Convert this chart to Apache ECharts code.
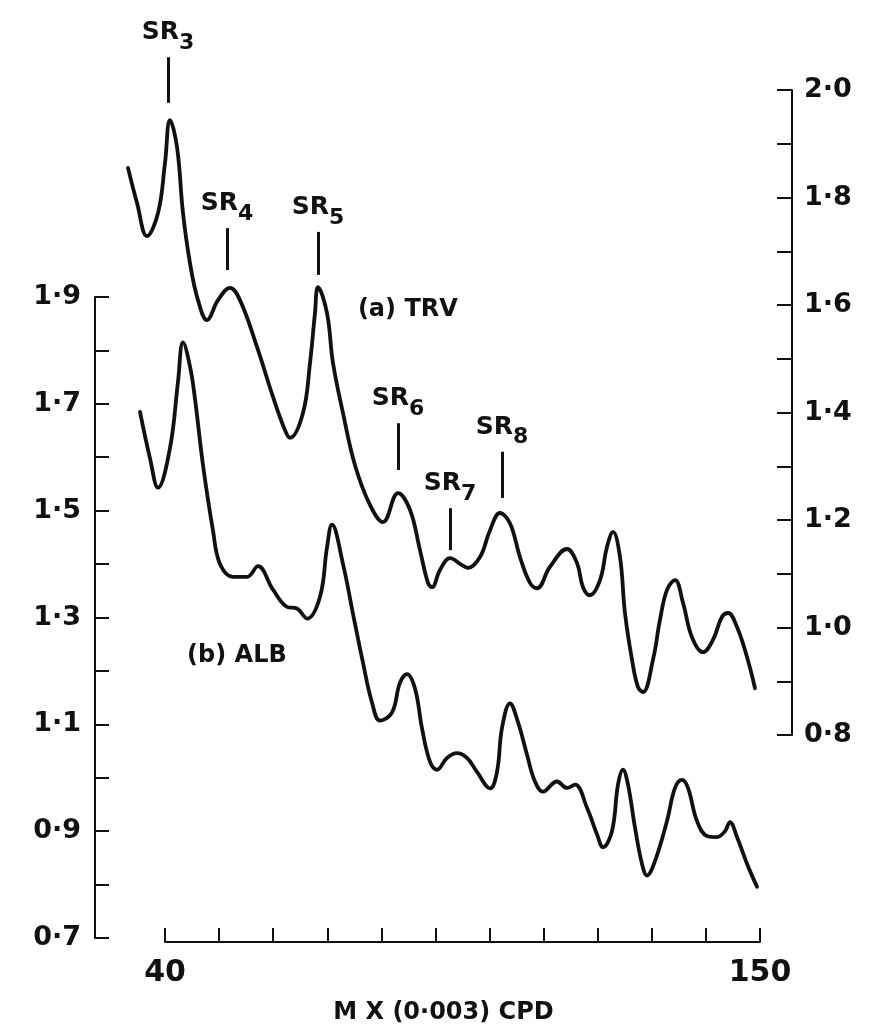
<!DOCTYPE html>
<html>
<head>
<meta charset="utf-8">
<script src="https://cdn.jsdelivr.net/npm/echarts@6/dist/echarts.min.js"></script>
<style>
html,body{margin:0;padding:0;background:#ffffff;}
#chart{width:885px;height:1030px;}
</style>
</head>
<body>
<div id="chart"></div>
<script>
// ---- data ----
// (a) TRV  -> right-hand scale
const trvX = [33.16, 34.82, 36.67, 38.71, 40.00, 40.92, 42.22, 43.33, 44.62, 46.10,
              47.76, 49.80, 52.02, 53.87, 57.01, 59.97, 62.19, 63.11, 65.51, 66.81,
              67.73, 68.29, 69.95, 71.06, 72.91, 75.13, 77.90, 80.30, 83.08, 85.29,
              87.14, 88.62, 89.36, 90.84, 92.69, 94.91, 96.02, 98.24, 100.09, 101.93,
              103.78, 105.63, 107.48, 108.77, 111.18, 114.32, 116.17, 117.28, 118.57, 120.42,
              121.72, 122.83, 124.12, 125.04, 126.34, 127.45, 128.37, 130.22, 131.51, 132.81,
              134.29, 135.77, 137.43, 139.46, 141.31, 142.98, 144.09, 145.75, 147.60, 149.08];
const trvY = [1.855, 1.790, 1.728, 1.771, 1.864, 1.944, 1.894, 1.771, 1.678, 1.609,
              1.572, 1.609, 1.632, 1.609, 1.522, 1.429, 1.367, 1.353, 1.399, 1.492,
              1.585, 1.633, 1.585, 1.492, 1.399, 1.302, 1.228, 1.196, 1.250, 1.219,
              1.144, 1.083, 1.075, 1.107, 1.129, 1.116, 1.111, 1.131, 1.181, 1.213,
              1.194, 1.131, 1.083, 1.073, 1.113, 1.146, 1.120, 1.075, 1.060, 1.088,
              1.150, 1.178, 1.131, 1.027, 0.940, 0.889, 0.880, 0.940, 1.014, 1.070,
              1.088, 1.046, 0.982, 0.954, 0.977, 1.020, 1.027, 1.001, 0.945, 0.887];

// (b) ALB  -> left-hand scale
const albX = [35.38, 37.23, 38.71, 40.92, 42.40, 43.33, 44.62, 45.55, 47.03, 48.87,
              50.17, 52.57, 55.16, 57.19, 59.97, 62.55, 64.40, 66.25, 68.66, 69.95,
              70.87, 72.91, 74.76, 76.61, 78.27, 79.75, 81.97, 83.45, 84.74, 86.22,
              87.51, 88.99, 90.29, 92.13, 93.98, 95.83, 97.68, 100.09, 101.38, 102.30,
              103.78, 105.26, 106.93, 108.40, 109.88, 112.47, 114.32, 115.80, 118.02, 119.87,
              120.98, 122.64, 123.75, 124.67, 125.60, 126.89, 128.18, 129.11, 130.59, 132.81,
              134.29, 135.58, 136.69, 138.35, 140.20, 142.05, 143.53, 144.45, 145.75, 147.60,
              149.45];
const albY = [1.685, 1.598, 1.543, 1.617, 1.741, 1.815, 1.770, 1.709, 1.585, 1.463,
              1.400, 1.376, 1.376, 1.396, 1.352, 1.320, 1.317, 1.298, 1.339, 1.431,
              1.474, 1.400, 1.307, 1.215, 1.141, 1.107, 1.122, 1.178, 1.194, 1.167,
              1.093, 1.030, 1.015, 1.037, 1.046, 1.037, 1.011, 0.980, 1.011, 1.093,
              1.139, 1.104, 1.043, 0.993, 0.974, 0.993, 0.981, 0.987, 0.944, 0.894,
              0.870, 0.900, 0.987, 1.015, 0.987, 0.907, 0.839, 0.817, 0.844, 0.919,
              0.981, 0.996, 0.981, 0.919, 0.891, 0.889, 0.900, 0.917, 0.889, 0.839,
              0.796];

// peak annotations (TRV scale)
const peakSub  = ['3', '4', '5', '6', '7', '8'];
const peakX    = [40.55, 51.46, 68.29, 83.08, 92.69, 102.30];
const arrowTop = [2.061, 1.743, 1.736, 1.380, 1.222, 1.327];
const arrowBot = [1.976, 1.665, 1.656, 1.293, 1.144, 1.241];

// axis ranges
const xTicksMin = 40, xTicksMax = 150, xStep = 10;
const leftMin = 0.7, leftMax = 1.9;
const rightMin = 0.8, rightMax = 2.0;
const yStep = 0.1;
const fullXMin = 27.06, fullXMax = 155.92;   // x value at the left and right scale lines
const trvPlotMax = 2.1674;                   // TRV value at the top edge of the page

const seriesName = { trv: '(a) TRV', alb: '(b) ALB' };
const trvNamePos = [84.9, 1.591];
const albNamePos = [53.3, 1.228];
const xAxisTitle = 'M X (0·003) CPD';

// ---- chart ----
const INK = '#111111';
const FONT = 'DejaVu Sans';
const fmtDot = v => v.toFixed(1).replace('.', '·');

const chart = echarts.init(document.getElementById('chart'), null, { renderer: 'canvas' });

const arrows = peakSub.map((s, i) => [
  { coord: [peakX[i], arrowTop[i]], name: s },
  { coord: [peakX[i], arrowBot[i]] }
]);

const nameLabel = {
  show: true, position: 'inside', color: INK, fontFamily: FONT, fontWeight: 'bold', fontSize: 24,
  formatter: p => p.name
};

const option = {
  backgroundColor: '#ffffff',
  animation: false,
  grid: [
    { left: 95, right: 93, top: 297, bottom: 88 },    // 0: ALB + left scale
    { left: 95, right: 93, top: 90, bottom: 295 },    // 1: right scale
    { left: 165, right: 125, top: 297, bottom: 88 },  // 2: visible x axis
    { left: 95, right: 93, top: 0, bottom: 295 }      // 3: TRV curve + labels
  ],
  xAxis: [
    { gridIndex: 0, type: 'value', min: fullXMin, max: fullXMax,
      axisLine: { show: false }, axisTick: { show: false }, axisLabel: { show: false },
      splitLine: { show: false },
      name: xAxisTitle, nameLocation: 'middle', nameGap: 63,
      nameTextStyle: { color: INK, fontFamily: FONT, fontSize: 24, fontWeight: 'bold' } },
    { gridIndex: 1, type: 'value', min: fullXMin, max: fullXMax, show: false },
    { gridIndex: 2, type: 'value', min: xTicksMin, max: xTicksMax, interval: xStep,
      axisLine: { lineStyle: { color: INK, width: 2 } },
      axisTick: { inside: true, length: 14, lineStyle: { color: INK, width: 2 } },
      splitLine: { show: false },
      axisLabel: { color: INK, fontFamily: FONT, fontWeight: 'bold', fontSize: 30, margin: 16,
        formatter: v => (Math.abs(v - xTicksMin) < 1e-6 || Math.abs(v - xTicksMax) < 1e-6) ? String(v) : '' } },
    { gridIndex: 3, type: 'value', min: fullXMin, max: fullXMax, show: false }
  ],
  yAxis: [
    { gridIndex: 0, type: 'value', position: 'left', min: leftMin, max: leftMax, interval: yStep,
      axisLine: { show: true, lineStyle: { color: INK, width: 2 } },
      axisTick: { show: true, inside: true, length: 14, lineStyle: { color: INK, width: 2 } },
      splitLine: { show: false },
      axisLabel: { color: INK, fontFamily: FONT, fontWeight: 'bold', fontSize: 27, margin: 14,
        formatter: v => (Math.round(v * 10) % 2 === 1) ? fmtDot(v) : '' } },
    { gridIndex: 1, type: 'value', position: 'right', min: rightMin, max: rightMax, interval: yStep,
      axisLine: { show: true, lineStyle: { color: INK, width: 2 } },
      axisTick: { show: true, inside: true, length: 15, lineStyle: { color: INK, width: 2 } },
      splitLine: { show: false },
      axisLabel: { color: INK, fontFamily: FONT, fontWeight: 'bold', fontSize: 27, margin: 12,
        formatter: v => (Math.round(v * 10) % 2 === 0) ? fmtDot(v) : '' } },
    { gridIndex: 2, type: 'value', min: 0, max: 1, show: false },
    { gridIndex: 3, type: 'value', min: rightMin, max: trvPlotMax, show: false }
  ],
  series: [
    {
      name: seriesName.alb, type: 'line', xAxisIndex: 0, yAxisIndex: 0,
      data: albX.map((x, i) => [x, albY[i]]),
      smooth: 0.4, symbol: 'none', clip: false,
      lineStyle: { color: INK, width: 3.8, join: 'round', cap: 'round' },
      markPoint: {
        symbol: 'rect', symbolSize: 1, itemStyle: { color: 'rgba(0,0,0,0)' },
        label: nameLabel,
        data: [{ name: seriesName.alb, coord: albNamePos }]
      }
    },
    {
      name: seriesName.trv, type: 'line', xAxisIndex: 3, yAxisIndex: 3,
      data: trvX.map((x, i) => [x, trvY[i]]),
      smooth: 0.4, symbol: 'none', clip: false,
      lineStyle: { color: INK, width: 3.8, join: 'round', cap: 'round' },
      markPoint: {
        symbol: 'rect', symbolSize: 1, itemStyle: { color: 'rgba(0,0,0,0)' },
        label: nameLabel,
        data: [{ name: seriesName.trv, coord: trvNamePos }]
      },
      markLine: {
        silent: true, symbol: ['none', 'arrow'], symbolSize: [0, 8],
        lineStyle: { color: INK, width: 3, type: 'solid' },
        label: {
          show: true, position: 'start', distance: 3,
          formatter: p => '{a|SR}{b|' + p.name + '}',
          rich: {
            a: { color: INK, fontFamily: FONT, fontWeight: 'bold', fontSize: 25, verticalAlign: 'top', lineHeight: 34 },
            b: { color: INK, fontFamily: FONT, fontWeight: 'bold', fontSize: 22, verticalAlign: 'bottom', lineHeight: 34 }
          }
        },
        data: arrows
      }
    }
  ]
};
chart.setOption(option);
</script>
</body>
</html>
